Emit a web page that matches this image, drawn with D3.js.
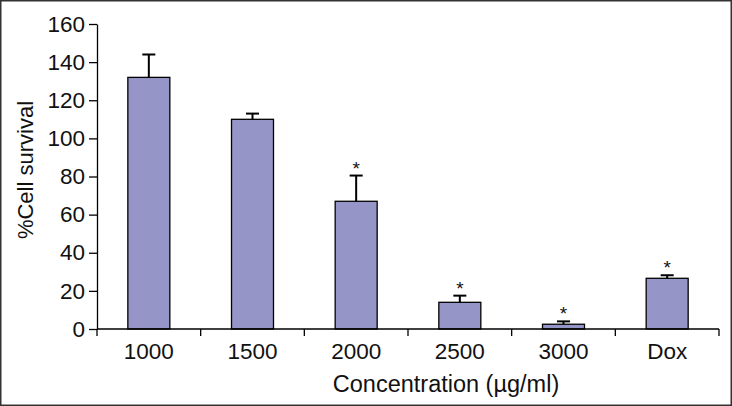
<!DOCTYPE html>
<meta charset="utf-8">
<style>
body { margin: 0; }
text { font-family: "Liberation Sans", Arial, sans-serif; fill: #111; }
.axis path, .axis line { stroke: #000; stroke-width: 1.3px; }
.bar { fill: #9595c8; stroke: #000; stroke-width: 1.3px; }
.err { stroke: #000; stroke-width: 2px; fill: none; }
</style>
<svg width="732" height="406"></svg>
<script src="https://d3js.org/d3.v7.min.js"></script>
<script>

var categories = ["1000", "1500", "2000", "2500", "3000", "Dox"];
var survival = [132, 110, 67, 14, 2.5, 26.6];
var errors = [12, 3, 13.5, 3.5, 1.5, 1.6];
var significant = [false, false, true, true, true, true];
var yTicks = [0, 20, 40, 60, 80, 100, 120, 140, 160];

var svg = d3.select("svg"),
    width = +svg.attr("width"),
    height = +svg.attr("height");

svg.append("rect")
    .attr("x", 0.75).attr("y", 0.75)
    .attr("width", width - 1.5).attr("height", height - 1.5)
    .attr("fill", "#fff").attr("stroke", "#333").attr("stroke-width", 1.5);

var margin = {left: 97, right: 13, top: 24, bottom: 77};

var x = d3.scaleBand()
    .domain(categories)
    .range([margin.left, width - margin.right])
    .paddingInner(0.595)
    .paddingOuter(0.2975);

var y = d3.scaleLinear()
    .domain([0, 160])
    .range([height - margin.bottom, margin.top]);

// bars
svg.append("g").selectAll("rect")
    .data(categories)
  .enter().append("rect")
    .attr("class", "bar")
    .attr("x", function(d) { return x(d); })
    .attr("width", x.bandwidth())
    .attr("y", function(d, i) { return y(survival[i]); })
    .attr("height", function(d, i) { return y(0) - y(survival[i]); });

// error bars (upper only)
var eg = svg.append("g").attr("class", "err");
categories.forEach(function(c, i) {
  var cx = x(c) + x.bandwidth() / 2,
      top = y(survival[i] + errors[i]);
  eg.append("line")
      .attr("x1", cx).attr("x2", cx)
      .attr("y1", y(survival[i])).attr("y2", top);
  eg.append("line")
      .attr("x1", cx - 6.5).attr("x2", cx + 6.5)
      .attr("y1", top).attr("y2", top);
  if (significant[i]) {
    svg.append("text")
        .attr("x", cx)
        .attr("y", top - 1)
        .attr("text-anchor", "middle")
        .style("font-size", "19px")
        .text("*");
  }
});

// y axis
svg.append("g")
    .attr("class", "axis")
    .attr("transform", "translate(" + margin.left + ",0)")
    .call(d3.axisLeft(y).tickValues(yTicks).tickSize(8).tickSizeOuter(0).tickPadding(4))
    .call(function(g) { g.selectAll("text").style("font-size", "22.5px").attr("fill", "#111"); });

// x axis: ticks between categories
var xAxis = svg.append("g")
    .attr("class", "axis")
    .attr("transform", "translate(0," + y(0) + ")");
xAxis.append("line")
    .attr("x1", margin.left).attr("x2", width - margin.right)
    .attr("y1", 0).attr("y2", 0);
var step = x.step();
var edges = categories.map(function(c) { return x(c) - x.paddingInner() * step / 2; });
edges.push(width - margin.right);
xAxis.selectAll(".tk")
    .data(edges)
  .enter().append("line")
    .attr("class", "tk")
    .attr("x1", function(d) { return d; }).attr("x2", function(d) { return d; })
    .attr("y1", 0).attr("y2", 7);
xAxis.selectAll(".lbl")
    .data(categories)
  .enter().append("text")
    .attr("class", "lbl")
    .attr("x", function(d) { return x(d) + x.bandwidth() / 2; })
    .attr("y", 30)
    .attr("text-anchor", "middle")
    .style("font-size", "22.5px")
    .text(function(d) { return d; });

// axis titles
svg.append("text")
    .attr("x", 446)
    .attr("y", 392)
    .attr("text-anchor", "middle")
    .style("font-size", "23.5px")
    .text("Concentration (\u00b5g/ml)");

svg.append("text")
    .attr("transform", "translate(33,170) rotate(-90)")
    .attr("text-anchor", "middle")
    .style("font-size", "22px")
    .text("%Cell survival");

</script>
